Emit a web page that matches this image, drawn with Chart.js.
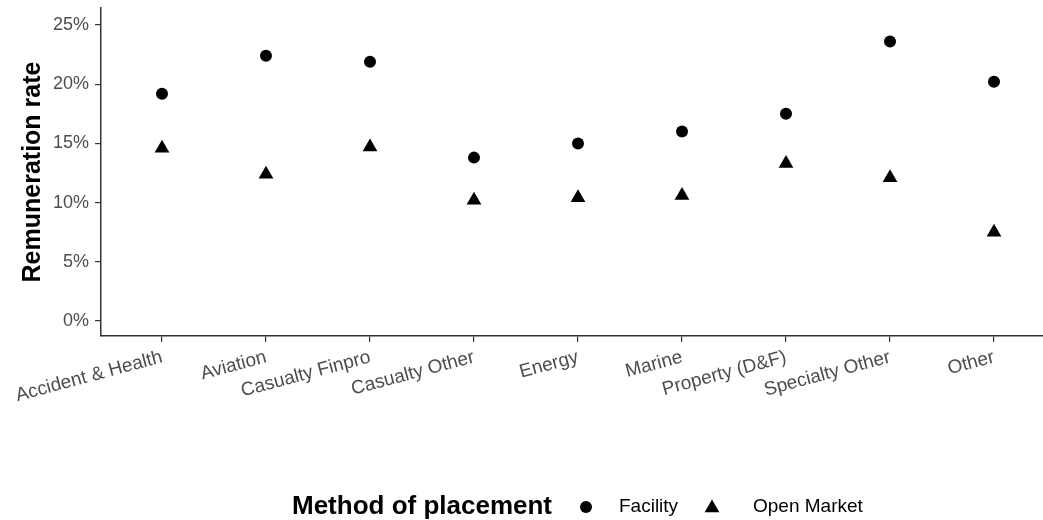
<!DOCTYPE html>
<html>
<head>
<meta charset="utf-8">
<script src="https://cdn.jsdelivr.net/npm/chart.js@4.4.1/dist/chart.umd.min.js"></script>
<style>
  html, body { margin: 0; padding: 0; background: #fff; overflow: hidden; }
  #wrap { width: 1043px; height: 520px; position: relative; }
</style>
</head>
<body>
<div id="wrap"><canvas id="c" width="1043" height="520"></canvas></div>
<script>
const categories = ["Accident & Health", "Aviation", "Casualty Finpro", "Casualty Other", "Energy", "Marine", "Property (D&F)", "Specialty Other", "Other"];
const facility = [19.2, 22.4, 21.9, 13.8, 15.0, 16.0, 17.5, 23.6, 20.2];
const openMarket = [14.6, 12.4, 14.7, 10.2, 10.4, 10.6, 13.3, 12.1, 7.5];
const yTicks = [0, 5, 10, 15, 20, 25];
const seriesNames = ["Facility", "Open Market"];
const legendTitle = "Method of placement";
const yTitle = "Remuneration rate";

const FONT = "'Liberation Sans', Arial, sans-serif";

const legendPlugin = {
  id: 'ggLegend',
  afterDraw(chart) {
    const ctx = chart.ctx;
    const y = 507;
    ctx.save();
    ctx.fillStyle = '#000';
    ctx.textBaseline = 'middle';
    ctx.textAlign = 'left';
    ctx.font = "bold 26px " + FONT;
    ctx.fillText(legendTitle, 292, y);
    const items = [
      {style: 'circle', r: 6, x: 586, tx: 619, label: chart.data.datasets[0].label},
      {style: 'triangle', r: 8.5, x: 712, tx: 753, label: chart.data.datasets[1].label}
    ];
    ctx.font = "19px " + FONT;
    items.forEach(it => {
      ctx.fillStyle = '#000';
      ctx.strokeStyle = '#000';
      Chart.helpers.drawPoint(ctx, {pointStyle: it.style, radius: it.r, borderWidth: 0, rotation: 0}, it.x, y + (it.style === 'triangle' ? 1 : 0));
      ctx.fillStyle = '#000';
      ctx.fillText(it.label, it.tx, y);
    });
    ctx.restore();
  }
};

function zeroPadding(scale) {
  scale.paddingTop = 0;
  scale.paddingBottom = 0;
  scale.paddingLeft = 0;
  scale.paddingRight = 0;
}

new Chart(document.getElementById('c'), {
  type: 'scatter',
  data: {
    datasets: [
      {
        label: seriesNames[0],
        data: categories.map((c, i) => ({x: i, y: facility[i]})),
        pointStyle: 'circle',
        pointRadius: 6,
        pointHoverRadius: 6,
        backgroundColor: '#000',
        borderColor: '#000',
        borderWidth: 0
      },
      {
        label: seriesNames[1],
        data: categories.map((c, i) => ({x: i, y: openMarket[i]})),
        pointStyle: 'triangle',
        pointRadius: 8.5,
        pointHoverRadius: 8.5,
        backgroundColor: '#000',
        borderColor: '#000',
        borderWidth: 0
      }
    ]
  },
  options: {
    responsive: false,
    animation: false,
    layout: { autoPadding: false, padding: { top: 8, right: 0, bottom: 0, left: 0 } },
    plugins: {
      legend: { display: false },
      tooltip: { enabled: false }
    },
    scales: {
      x: {
        type: 'linear',
        min: -0.5865,
        max: 8.471,
        afterBuildTicks(scale) { scale.ticks = categories.map((c, i) => ({value: i})); },
        afterFit(scale) { scale.height = 184; zeroPadding(scale); },
        ticks: {
          autoSkip: false,
          minRotation: 15,
          maxRotation: 15,
          padding: 4,
          color: '#4d4d4d',
          font: { family: FONT, size: 19 },
          callback: (v) => categories[v]
        },
        grid: {
          display: true,
          drawOnChartArea: false,
          drawTicks: true,
          tickLength: 6,
          color: '#333',
          lineWidth: 1.2
        },
        border: { display: true, color: '#333', width: 1.5 }
      },
      y: {
        type: 'linear',
        min: -1.27,
        max: 26.44,
        afterBuildTicks(scale) { scale.ticks = yTicks.map(v => ({value: v})); },
        afterFit(scale) { scale.width = 101; zeroPadding(scale); },
        ticks: {
          padding: 6,
          color: '#4d4d4d',
          font: { family: FONT, size: 18 },
          callback: (v) => v + '%'
        },
        grid: {
          display: true,
          drawOnChartArea: false,
          drawTicks: true,
          tickLength: 6,
          color: '#333',
          lineWidth: 1.2
        },
        border: { display: true, color: '#333', width: 1.5 },
        title: {
          display: true,
          text: yTitle,
          color: '#000',
          font: { family: FONT, size: 25, weight: 'bold' },
          padding: { top: 18, bottom: 0 }
        }
      }
    }
  },
  plugins: [legendPlugin]
});
</script>
</body>
</html>
